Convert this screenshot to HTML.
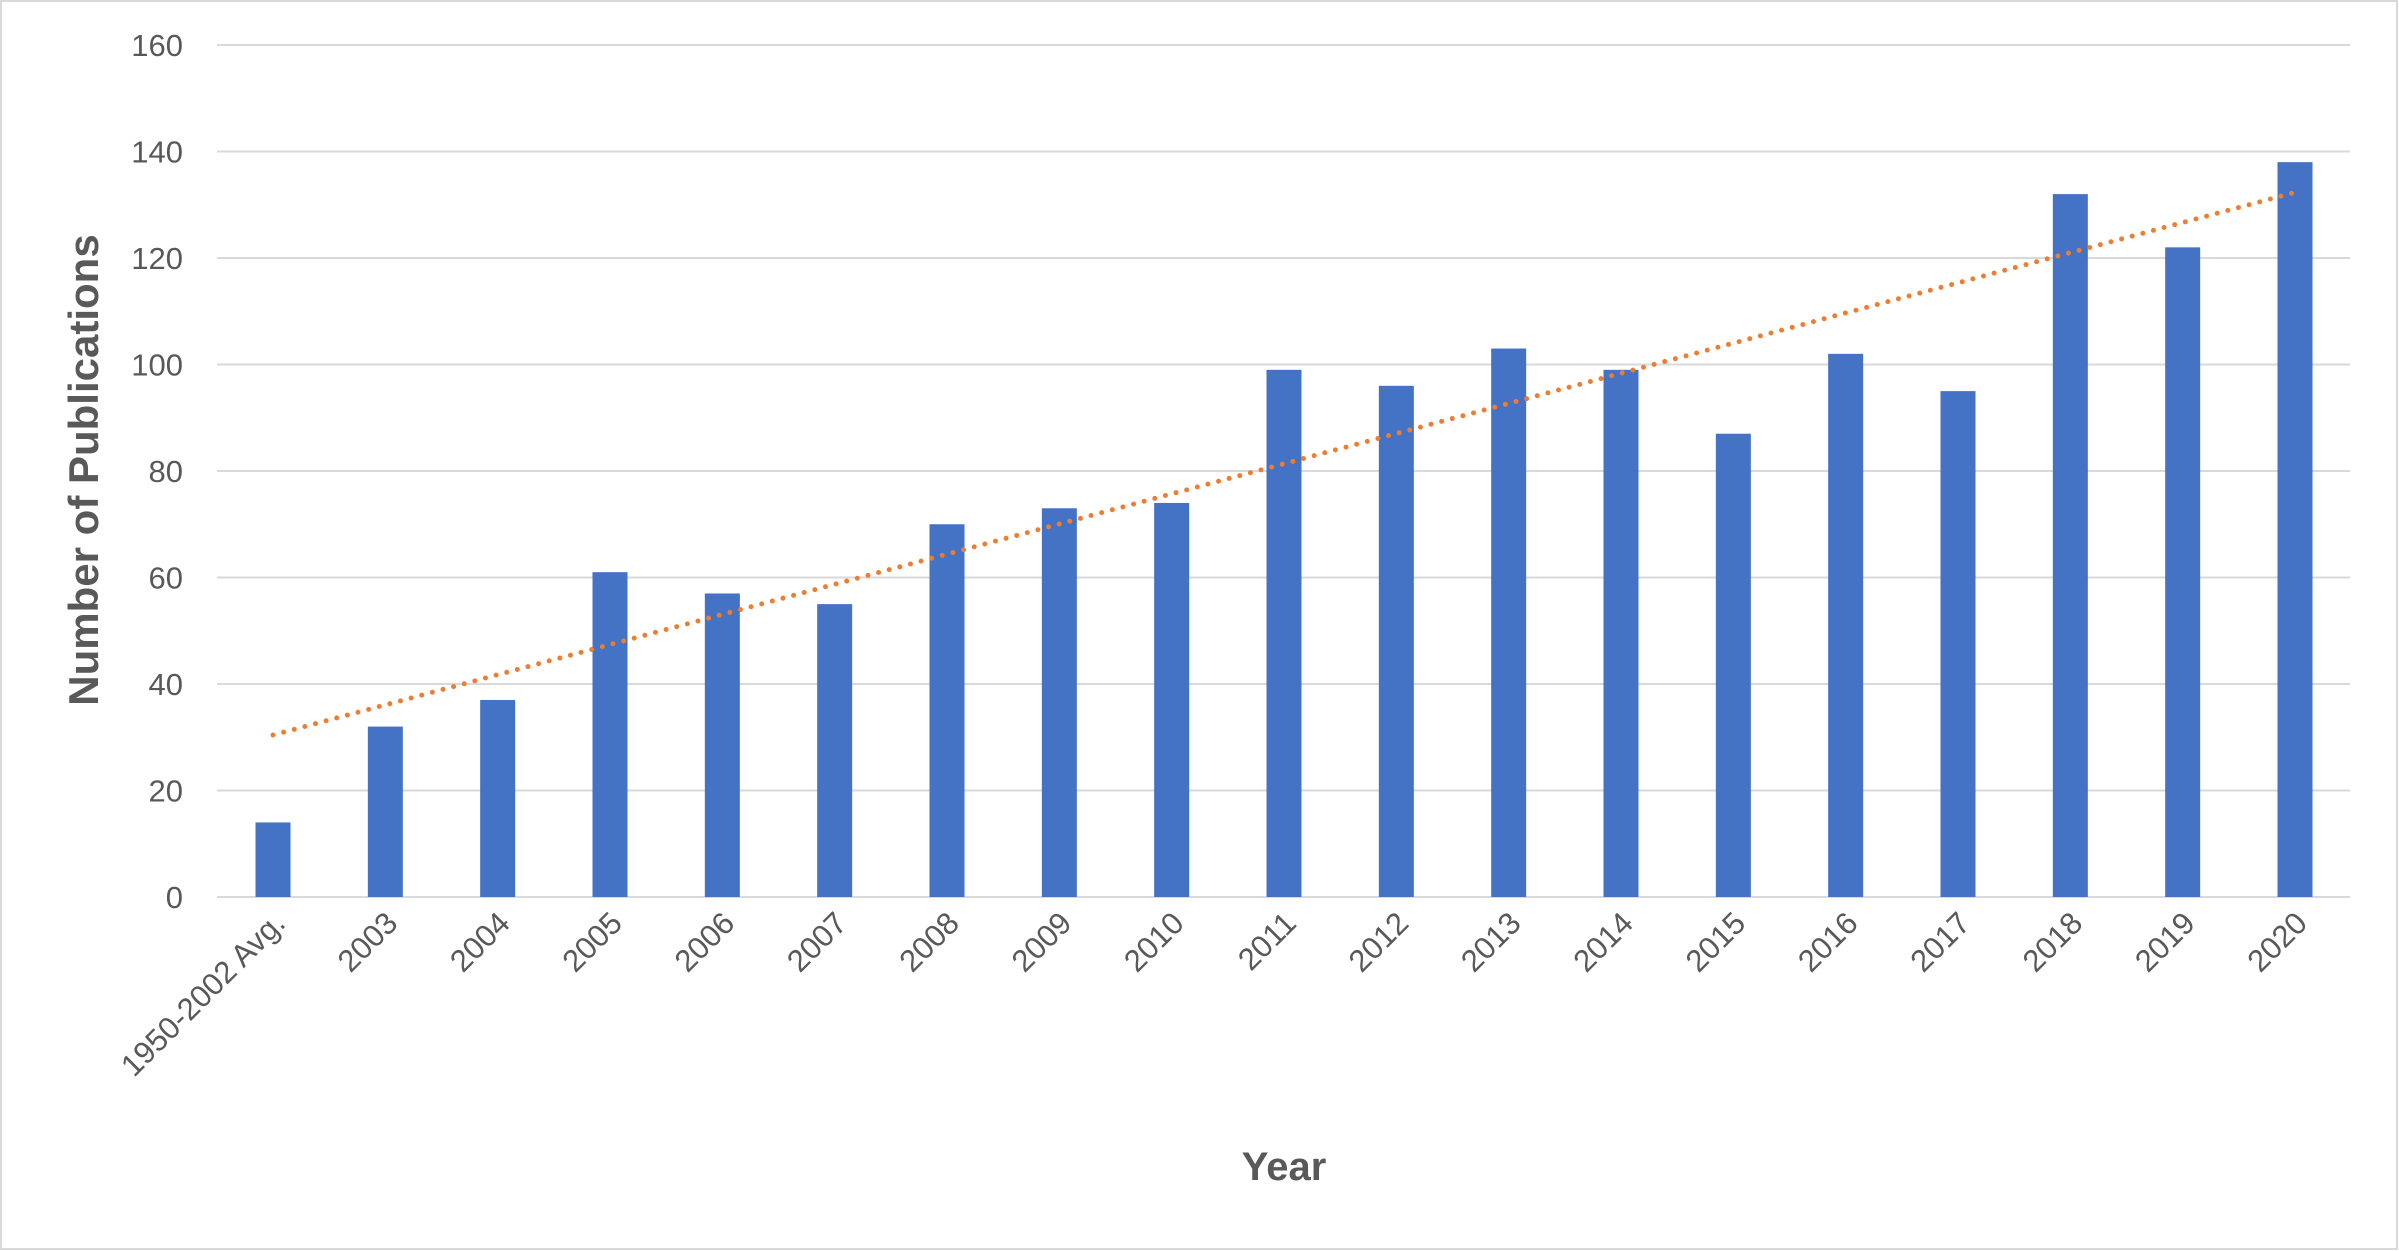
<!DOCTYPE html>
<html><head><meta charset="utf-8"><style>
html,body{margin:0;padding:0;background:#fff;}
svg{display:block;font-family:"Liberation Sans",sans-serif;}
</style></head><body>
<svg id="chart" width="2399" height="1251" viewBox="0 0 2399 1251" xmlns="http://www.w3.org/2000/svg">
<rect x="1" y="1" width="2396" height="1248" fill="#fff" stroke="#d9d9d9" stroke-width="2"/>
<g id="grid"></g><g id="bars"></g><g id="trend"></g><g id="ylabels"></g><g id="xlabels"></g>
<text transform="translate(98,470) rotate(-90)" text-anchor="middle" font-size="42" font-weight="bold" fill="#595959">Number of Publications</text>
<text x="1284" y="1180" text-anchor="middle" font-size="40" font-weight="bold" fill="#595959">Year</text>
</svg>
<script>
const categories = ["1950-2002 Avg.","2003","2004","2005","2006","2007","2008","2009","2010","2011","2012","2013","2014","2015","2016","2017","2018","2019","2020"];
const values = [14,32,37,61,57,55,70,73,74,99,96,103,99,87,102,95,132,122,138];
const yTicks = [0,20,40,60,80,100,120,140,160];
const NS="http://www.w3.org/2000/svg";
const plotL=217, plotR=2350, y0=897, yTop=45, yMax=160;
const firstX=273, lastX=2295, barW=35;
const step=(lastX-firstX)/(categories.length-1);
function xScale(i){return firstX+i*step;}
function yScale(v){return y0-(v/yMax)*(y0-yTop);}
function mk(tag,attrs,parent){const e=document.createElementNS(NS,tag);for(const k in attrs)e.setAttribute(k,attrs[k]);document.getElementById(parent).appendChild(e);return e;}
yTicks.forEach(t=>{
  const l=mk('line',{x1:plotL,x2:plotR,y1:yScale(t),y2:yScale(t),stroke:'#d9d9d9','stroke-width':2},'grid');
  
  
  const tx=mk('text',{x:183,y:yScale(t)+11,'text-anchor':'end','font-size':31,fill:'#595959'},'ylabels');
  tx.textContent=t;
  
  
});
values.forEach((v,i)=>{
  const r=mk('rect',{x:xScale(i)-barW/2,y:yScale(v),width:barW,height:y0-yScale(v),fill:'#4472c4'},'bars');
  
  
  const cx=xScale(i)+14, cy=925;
  const tx=mk('text',{x:cx,y:cy,'text-anchor':'end','font-size':31,fill:'#595959',transform:'rotate(-45 '+cx+' '+cy+')'},'xlabels');
  tx.textContent=categories[i];
  
  
});
// linear trendline from data
const n=values.length;let sx=0,sy=0,sxy=0,sxx=0;
values.forEach((v,i)=>{sx+=i;sy+=v;sxy+=i*v;sxx+=i*i;});
const slope=(n*sxy-sx*sy)/(n*sxx-sx*sx), icpt=(sy-slope*sx)/n;
const tl=mk('line',{x1:xScale(0),y1:yScale(icpt),x2:xScale(n-1),y2:yScale(icpt+slope*(n-1)),stroke:'#ed7d31','stroke-width':5,'stroke-dasharray':'0 11','stroke-linecap':'round'},'trend');


</script>
</body></html>
